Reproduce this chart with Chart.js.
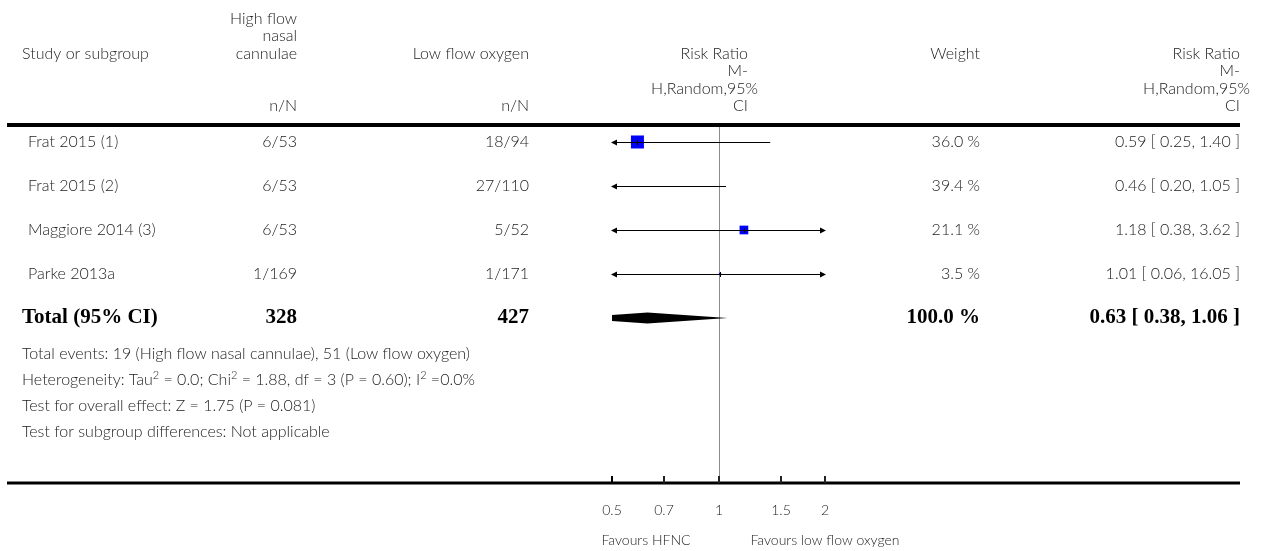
<!DOCTYPE html>
<html>
<head>
<meta charset="utf-8">
<title>Forest plot</title>
<script src="https://cdn.jsdelivr.net/npm/chart.js@4.4.1/dist/chart.umd.min.js"></script>
<style>
  html, body { margin: 0; padding: 0; background: #ffffff; }
  #wrap { position: relative; width: 1268px; height: 551px; }
</style>
</head>
<body>
<div id="wrap"><canvas id="forest" width="1268" height="551"></canvas></div>
<script>
// ---- data -------------------------------------------------------------
const studyNames    = ['Frat 2015 (1)', 'Frat 2015 (2)', 'Maggiore 2014 (3)', 'Parke 2013a'];
const hfncEvents    = ['6/53', '6/53', '6/53', '1/169'];
const lowFlowEvents = ['18/94', '27/110', '5/52', '1/171'];
const weights       = [36.0, 39.4, 21.1, 3.5];
const riskRatios    = [0.59, 0.46, 1.18, 1.01];
const ciLower       = [0.25, 0.20, 0.38, 0.06];
const ciUpper       = [1.40, 1.05, 3.62, 16.05];

const totalLabel    = 'Total (95% CI)';
const totalHfnc     = 328;
const totalLowFlow  = 427;
const totalWeight   = 100.0;
const totalRR       = 0.63;
const totalLower    = 0.38;
const totalUpper    = 1.06;

const axisTicks      = [0.5, 0.7, 1, 1.5, 2];
const axisTickLabels = ['0.5', '0.7', '1', '1.5', '2'];

const footerLines = [
  [['Total events: 19 (High flow nasal cannulae), 51 (Low flow oxygen)']],
  [['Heterogeneity: Tau'], ['2', 'sup'], [' = 0.0; Chi'], ['2', 'sup'], [' = 1.88, df = 3 (P = 0.60); I'], ['2', 'sup'], [' =0.0%']],
  [['Test for overall effect: Z = 1.75 (P = 0.081)']],
  [['Test for subgroup differences: Not applicable']]
];
const favourLeft  = 'Favours HFNC';
const favourRight = 'Favours low flow oxygen';

// ---- layout & style ---------------------------------------------------
const SANS  = "Lato, 'Open Sans', sans-serif";
const SERIF = "'Liberation Serif', 'DejaVu Serif', serif";
const TXT   = '#222222';
const COL = { study: 22, hfnc: 297, low: 529, plotHead: 748, weight: 980, rr: 1240 };
const NN_Y = 106, LINE_H = 17.5;
const HEAD_Y = NN_Y - 3 * LINE_H;
const FOOT_Y = [354, 380, 406, 432];
const RULE = { left: 7, right: 1240 };

const fmt2 = v => v.toFixed(2);
const rrText = (r, l, u) => `${fmt2(r)} [ ${fmt2(l)}, ${fmt2(u)} ]`;

function text(ctx, s, x, y, align, font, color) {
  ctx.font = font;
  ctx.fillStyle = color || TXT;
  ctx.textAlign = align;
  ctx.textBaseline = 'middle';
  ctx.fillText(s, x, y);
}

// square side follows the study weight
const boxRadius = w => (13 * Math.pow(w / 36, 0.75)) / 2 / Math.SQRT1_2;

const forestPlugin = {
  id: 'forestDecor',
  beforeDatasetsDraw(chart) {
    const { ctx, chartArea: a, scales: { x } } = chart;
    const x1 = Math.round(x.getPixelForValue(1)) + 0.5;
    ctx.save();
    ctx.strokeStyle = '#8c8c8c';
    ctx.lineWidth = 1;
    ctx.beginPath();
    ctx.moveTo(x1, a.top);
    ctx.lineTo(x1, a.bottom);
    ctx.stroke();
    ctx.restore();
  },
  afterDatasetsDraw(chart) {
    const { ctx, chartArea: a, scales: { x, y } } = chart;
    ctx.save();

    // confidence intervals, with arrows where they run off the axis
    ctx.strokeStyle = '#000';
    ctx.fillStyle = '#000';
    ctx.lineWidth = 1;
    riskRatios.forEach((rr, i) => {
      const py = Math.round(y.getPixelForValue(i)) + 0.5;
      const lo = Math.max(x.getPixelForValue(ciLower[i]), a.left);
      const hi = Math.min(x.getPixelForValue(ciUpper[i]), a.right);
      ctx.beginPath();
      ctx.moveTo(lo, py);
      ctx.lineTo(hi, py);
      ctx.stroke();
      if (x.getPixelForValue(ciLower[i]) < a.left) {
        ctx.beginPath();
        ctx.moveTo(a.left - 1, py);
        ctx.lineTo(a.left + 5, py - 3);
        ctx.lineTo(a.left + 5, py + 3);
        ctx.closePath();
        ctx.fill();
      }
      if (x.getPixelForValue(ciUpper[i]) > a.right) {
        ctx.beginPath();
        ctx.moveTo(a.right + 1, py);
        ctx.lineTo(a.right - 5, py - 3);
        ctx.lineTo(a.right - 5, py + 3);
        ctx.closePath();
        ctx.fill();
      }
      const px = x.getPixelForValue(rr);
      if (px >= a.left && px <= a.right) {
        ctx.beginPath();
        ctx.moveTo(Math.round(px) + 0.5, py - 2.5);
        ctx.lineTo(Math.round(px) + 0.5, py + 2.5);
        ctx.stroke();
      }
    });

    // pooled estimate diamond, clipped to the axis range
    const ty = y.getPixelForValue(studyNames.length);
    ctx.save();
    ctx.beginPath();
    ctx.rect(a.left, a.top, a.right - a.left, a.bottom - a.top);
    ctx.clip();
    ctx.beginPath();
    ctx.moveTo(x.getPixelForValue(totalLower), ty);
    ctx.lineTo(x.getPixelForValue(totalRR), ty - 5.5);
    ctx.lineTo(x.getPixelForValue(totalUpper), ty);
    ctx.lineTo(x.getPixelForValue(totalRR), ty + 5.5);
    ctx.closePath();
    ctx.fill();
    ctx.restore();

    // heavy rules
    ctx.fillStyle = '#000';
    ctx.fillRect(RULE.left, a.top - 2, RULE.right - RULE.left, 4);
    ctx.fillRect(RULE.left, a.bottom - 1.5, RULE.right - RULE.left, 3);

    // axis ticks and labels
    const fs = `300 14px ${SANS}`;
    axisTicks.forEach((t, k) => {
      const px = Math.round(x.getPixelForValue(t));
      ctx.fillRect(px - 1, a.bottom - 7, 2, 7);
      text(ctx, axisTickLabels[k], px, 510, 'center', fs);
    });
    const x1 = x.getPixelForValue(1);
    text(ctx, favourLeft, x1 - 28, 540, 'right', fs);
    text(ctx, favourRight, x1 + 32, 540, 'left', fs);

    // column headings
    const f = `300 16px ${SANS}`;
    text(ctx, 'Study or subgroup', COL.study, HEAD_Y, 'left', f);
    ['High flow', 'nasal', 'cannulae'].forEach((s, k) =>
      text(ctx, s, COL.hfnc, HEAD_Y - (2 - k) * LINE_H, 'right', f));
    text(ctx, 'Low flow oxygen', COL.low, HEAD_Y, 'right', f);
    text(ctx, 'n/N', COL.hfnc, NN_Y, 'right', f);
    text(ctx, 'n/N', COL.low, NN_Y, 'right', f);
    text(ctx, 'Weight', COL.weight, HEAD_Y, 'right', f);
    [COL.plotHead, COL.rr].forEach(r => {
      text(ctx, 'Risk Ratio', r, HEAD_Y, 'right', f);
      text(ctx, 'M-', r, HEAD_Y + LINE_H, 'right', f);
      text(ctx, 'H,Random,95%', r + 10, HEAD_Y + 2 * LINE_H, 'right', f);
      text(ctx, 'CI', r, HEAD_Y + 3 * LINE_H, 'right', f);
    });

    // study rows
    studyNames.forEach((name, i) => {
      const py = y.getPixelForValue(i);
      text(ctx, name, COL.study + 6, py, 'left', f);
      text(ctx, hfncEvents[i], COL.hfnc, py, 'right', f);
      text(ctx, lowFlowEvents[i], COL.low, py, 'right', f);
      text(ctx, weights[i].toFixed(1) + ' %', COL.weight, py, 'right', f);
      text(ctx, rrText(riskRatios[i], ciLower[i], ciUpper[i]), COL.rr, py, 'right', f);
    });

    // total row
    const fb = `bold 21px ${SERIF}`;
    text(ctx, totalLabel, COL.study, ty, 'left', fb, '#000');
    text(ctx, String(totalHfnc), COL.hfnc, ty, 'right', fb, '#000');
    text(ctx, String(totalLowFlow), COL.low, ty, 'right', fb, '#000');
    text(ctx, totalWeight.toFixed(1) + ' %', COL.weight, ty, 'right', fb, '#000');
    text(ctx, rrText(totalRR, totalLower, totalUpper), COL.rr, ty, 'right', fb, '#000');

    // summary statistics
    footerLines.forEach((parts, k) => {
      let cx = COL.study;
      parts.forEach(([s, kind]) => {
        const sup = kind === 'sup';
        const font = sup ? `300 11px ${SANS}` : f;
        text(ctx, s, cx, FOOT_Y[k] - (sup ? 5 : 0), 'left', font);
        ctx.font = font;
        cx += ctx.measureText(s).width;
      });
    });

    ctx.restore();
  }
};

new Chart(document.getElementById('forest'), {
  type: 'scatter',
  data: {
    datasets: [{
      label: 'Risk ratio',
      data: riskRatios.map((r, i) => ({ x: r, y: i })),
      pointStyle: 'rect',
      pointRadius: weights.map(boxRadius),
      pointHoverRadius: weights.map(boxRadius),
      backgroundColor: '#0000ff',
      borderWidth: 0,
      clip: 0
    }]
  },
  options: {
    responsive: false,
    animation: false,
    devicePixelRatio: 1,
    layout: { padding: { left: 612, right: 443, top: 125, bottom: 68 } },
    scales: {
      x: { type: 'logarithmic', min: 0.5, max: 2, display: false },
      y: { type: 'linear', min: -0.386, max: 7.75, reverse: true, display: false }
    },
    plugins: { legend: { display: false }, tooltip: { enabled: false } },
    events: []
  },
  plugins: [forestPlugin]
});
</script>
</body>
</html>
